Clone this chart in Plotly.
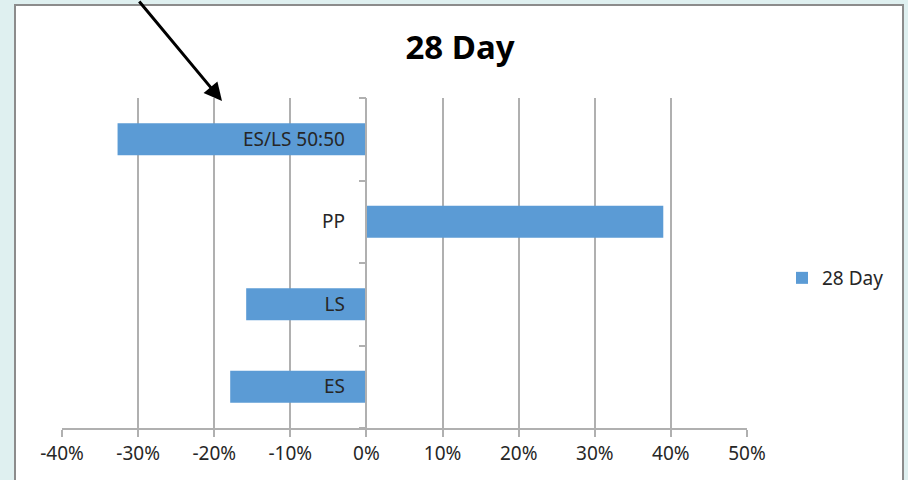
import plotly.graph_objects as go

# Change over 28 days for each group (bottom to top on the chart)
categories = ["ES", "LS", "PP", "ES/LS 50:50"]
values = [-0.179, -0.158, 0.39, -0.327]
series_name = "28 Day"

# Value axis ticks and their labels
tick_values = [-0.4, -0.3, -0.2, -0.1, 0.0, 0.1, 0.2, 0.3, 0.4, 0.5]
tick_labels = ["-40%", "-30%", "-20%", "-10%", "0%", "10%", "20%", "30%", "40%", "50%"]

W, H = 908, 480
ML, MR, MT, MB = 62, 161, 98, 52
pw, ph = W - ML - MR, H - MT - MB


def px_x(x):
    return (x - ML) / pw


def px_y(y):
    return (H - MB - y) / ph


BAR = "#5b9bd5"
GRID = "#b0b0b0"
TXT = "#262626"
FONT = "Noto Sans"

fig = go.Figure(
    go.Bar(
        x=values,
        y=categories,
        orientation="h",
        name=series_name,
        marker=dict(color=BAR, line=dict(width=0)),
        width=0.39,
        showlegend=True,
    )
)

# position of the value axis zero on the plotting area (paper fraction)
x_min, x_max = tick_values[0], tick_values[-1]
zero_frac = (0 - x_min) / (x_max - x_min)

fig.update_layout(
    width=W,
    height=H,
    margin=dict(l=ML, r=MR, t=MT, b=MB),
    paper_bgcolor="#dff0f0",
    plot_bgcolor="white",
    font=dict(family=FONT, color=TXT, size=19),
    title=dict(
        text="<b>28 Day</b>",
        x=px_x(460),
        xref="paper",
        xanchor="center",
        y=1 - 47 / H,
        yanchor="middle",
        font=dict(family=FONT, size=33, color="black"),
    ),
    xaxis=dict(
        range=[x_min, x_max],
        tickvals=tick_values,
        ticktext=tick_labels,
        showgrid=True,
        gridcolor=GRID,
        gridwidth=1.5,
        zeroline=False,
        showline=True,
        linecolor=GRID,
        linewidth=1.5,
        ticks="outside",
        ticklen=7,
        tickcolor=GRID,
        tickwidth=1.5,
        tickfont=dict(size=19, color=TXT),
        fixedrange=True,
    ),
    yaxis=dict(
        type="category",
        categoryorder="array",
        categoryarray=categories,
        range=[-0.5, 3.5],
        anchor="free",
        position=zero_frac,
        showline=True,
        linecolor=GRID,
        linewidth=1.5,
        showgrid=False,
        zeroline=False,
        ticks="outside",
        tickson="boundaries",
        ticklen=7,
        tickcolor=GRID,
        tickwidth=1.5,
        ticklabelstandoff=17,
        tickfont=dict(size=19, color=TXT),
        layer="above traces",
        fixedrange=True,
    ),
    legend=dict(
        x=px_x(782),
        y=px_y(278),
        xanchor="left",
        yanchor="middle",
        bgcolor="rgba(0,0,0,0)",
        font=dict(size=19, color=TXT),
    ),
    shapes=[
        # white chart frame on the tinted page
        dict(
            type="rect",
            xref="paper",
            yref="paper",
            x0=px_x(15),
            x1=px_x(903),
            y0=px_y(490),
            y1=px_y(5),
            fillcolor="white",
            line=dict(color="#8c8c8c", width=2),
            layer="below",
        )
    ],
    annotations=[
        dict(
            xref="paper",
            yref="paper",
            x=px_x(222),
            y=px_y(101),
            ax=-84,
            ay=-108,
            text="",
            showarrow=True,
            arrowhead=2,
            arrowsize=1.2,
            arrowwidth=3,
            arrowcolor="black",
        )
    ],
)

fig.write_html("out.html")
